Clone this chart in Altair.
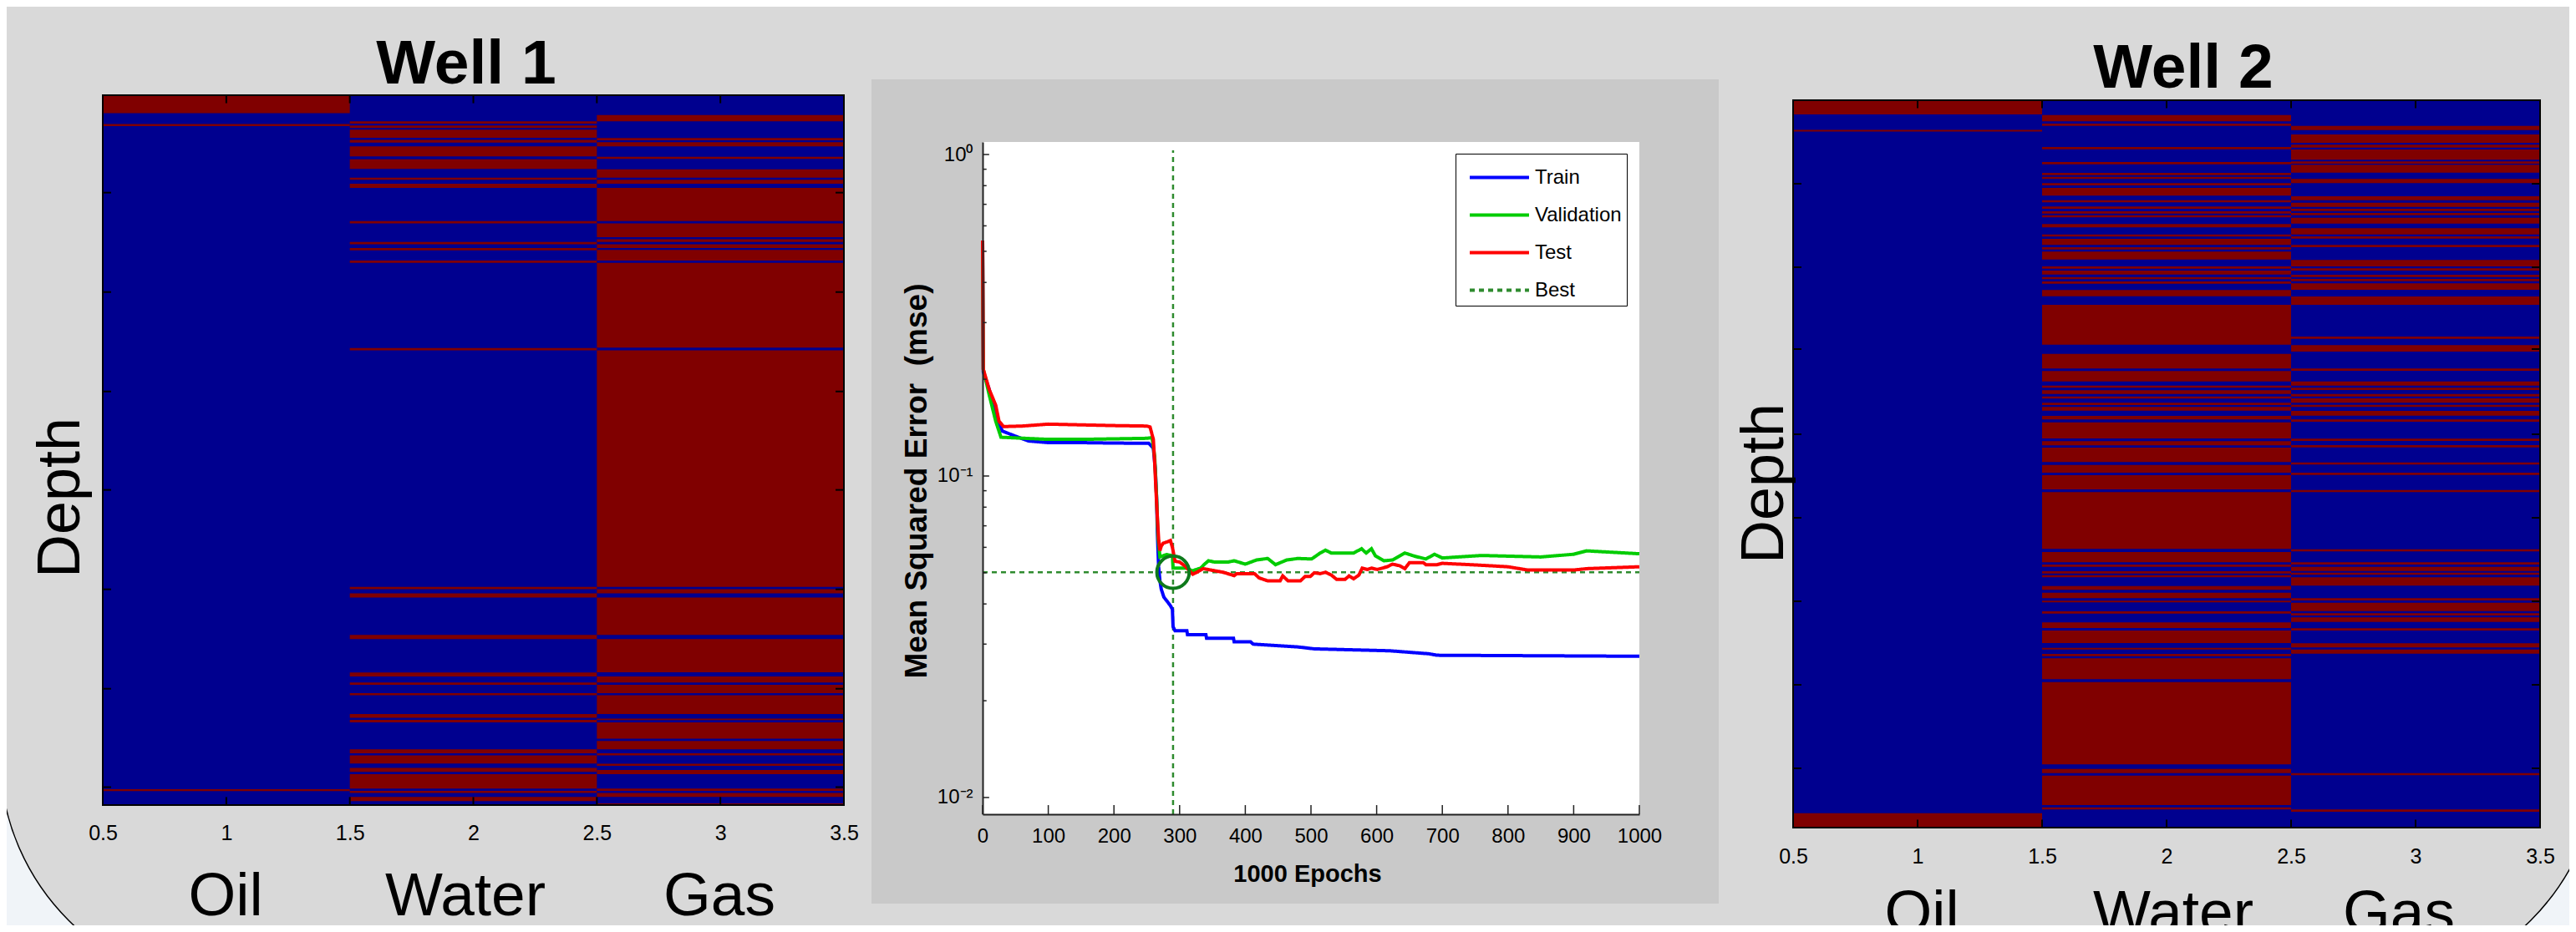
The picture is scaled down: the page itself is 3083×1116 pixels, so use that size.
import altair as alt
import pandas as pd

# ---------- Well 1 : depth intervals (rows) classified as the "red" state ----------
w1_rows = 714
w1_oil = [(0, 18), (29, 31), (698, 700)]
w1_water = [(26.3, 28.6), (30.5, 33), (34.7, 42.9), (45, 47.6), (51.5, 61.6), (64.4, 74.2), (83, 85), (89, 93.3),
            (126.6, 128.9), (147.6, 149.9), (153.8, 156), (166.4, 168.6), (254.3, 256.6), (494.6, 496.9), (501, 505.3),
            (542.8, 547), (580.6, 584.6), (590.7, 593), (601.4, 603.6), (622.4, 626.3), (628.3, 630.8), (658, 661.9),
            (664, 672.2), (676.7, 680.6), (682.9, 697.5), (699.7, 701.9), (705.9, 710)]
w1_gas = [(20, 26.3), (43, 45.4), (47.3, 51.5), (62, 64), (74.5, 83), (85, 89), (93.3, 126.6), (128.9, 142.9),
          (145, 147.6), (150, 153.8), (155.7, 166.4), (168.6, 253.8), (256.6, 494.6), (496.9, 501), (505.3, 542.8),
          (547, 580.4), (584.6, 590.7), (593, 601.4), (603.6, 622.4), (627, 628.5), (630.8, 647.3), (649.5, 658),
          (661.9, 664.1), (672.5, 674.5), (678.7, 682.9), (697.5, 699.7), (701.9, 705.9), (712.3, 714)]
w1_ticks = [98, 198, 298, 397, 497, 597, 696]

# ---------- Well 2 ----------
w2_rows = 871
w2_oil = [(0, 17), (35.5, 37.5), (853.7, 871)]
w2_water = [(17.7, 25.3), (28, 30.7), (56, 58.7), (74, 76.7), (87, 89.7), (91.7, 94.3), (99.3, 102), (105, 114.3),
            (119.7, 122.3), (127.3, 130), (133, 135.7), (137.7, 140.3), (148.3, 152.3), (160.7, 163.3), (166, 173.3),
            (176, 178.7), (181.3, 190.7), (199, 201.7), (204, 208.7), (211.7, 214.3), (217, 219.7), (227.3, 234.7),
            (245, 292.7), (303.7, 321.3), (324.3, 336.7), (341.7, 344.3), (347.3, 351.7), (354.7, 357.3), (362.3, 365),
            (367.3, 371.7), (378, 382.3), (385.7, 405), (408.3, 413.3), (416, 433.3), (436.7, 446), (449, 466),
            (469.3, 537.3), (541, 553.3), (556, 558.7), (564, 566.7), (568.7, 571.3), (581.7, 586.3), (589.7, 596.3),
            (599.3, 601.3), (612, 614.7), (625.3, 632), (635, 650), (655.7, 657.7), (663, 665.7), (668.3, 693.3),
            (696.7, 795.3), (800.7, 805.7), (808.7, 844), (846.7, 849.3)]
w2_gas = [(30.7, 35.7), (41, 51), (53.3, 56.7), (59, 71.3), (73.3, 76), (77.3, 86.7), (94.3, 99.3), (115, 119.7),
          (122.7, 127.7), (130, 132.7), (135, 137.7), (140.7, 147.7), (153.3, 160.7), (163, 165.7), (173.3, 176),
          (191.3, 199), (201.3, 204), (209, 211.7), (214, 216.7), (219.3, 227), (235, 245), (283, 285.7), (293.3, 301),
          (321.3, 324), (336.7, 341.7), (344.3, 347), (351.7, 354.7), (357, 362.3), (364.7, 367.3), (372, 377.7),
          (382.3, 385), (405.3, 408), (413, 415.7), (433.7, 436.3), (446, 448.7), (466.7, 469.3), (537.7, 540.3),
          (553.3, 556), (558.7, 563.7), (565.7, 568.3), (571.3, 581.3), (596.3, 599), (601.7, 611.7), (614.3, 617),
          (619.3, 624.7), (632.3, 635), (650.3, 655.3), (657.7, 662.7), (805.7, 808.3), (849.3, 852)]
w2_ticks = [100, 200, 298, 400, 500, 600, 700, 800]

x_label_values = [0.5, 1, 1.5, 2, 2.5, 3, 3.5]
x_inner_ticks = [1, 1.5, 2, 2.5, 3]
fluids = ["Oil", "Water", "Gas"]

# ---------- Training curves (epoch, mse) ----------
train_e = [0, 1, 10, 20, 30, 50, 70, 100, 150, 200, 253, 260, 263, 265, 266, 268, 270, 272, 276, 282, 286, 289, 290, 293,
           311, 312, 340, 341, 382, 383, 408, 412, 480, 505, 620, 679, 692, 1000]
train_v = [.54, .211, .186, .154, .138, .133, .1285, .127, .127, .1266, .1264, .122, .105, .085, .068, .0522, .0472, .0445,
           .042, .0405, .0395, .0385, .034, .033, .033, .0321, .0321, .0313, .0313, .0305, .0305, .03, .0294, .029, .0286,
           .028, .0277, .0275]
val_e = [0, 1, 10, 20, 28, 100, 150, 250, 258, 262, 265, 267, 270, 280, 289, 290, 311, 319, 332, 338, 344, 353, 374, 383,
         400, 417, 434, 446, 463, 480, 501, 514, 522, 531, 565, 577, 584, 592, 598, 611, 624, 643, 658, 675, 688, 700, 760,
         850, 900, 920, 1000]
val_v = [.54, .215, .179, .148, .132, .130, .130, .131, .1316, .115, .085, .065, .056, .057, .0565, .0517, .0517, .0507,
         .0517, .0532, .0545, .054, .054, .0545, .0532, .0548, .0554, .053, .0548, .0554, .0552, .0576, .0588, .0576,
         .0576, .0594, .0576, .0594, .0565, .0545, .0548, .0576, .0563, .0552, .0571, .0556, .0566, .056, .0571, .0585,
         .0573]
test_e = [0, 1, 10, 20, 25, 32, 60, 100, 200, 250, 255, 260, 262, 264, 266, 268, 270, 272, 275, 282, 286, 289, 293, 300,
          308, 316, 320, 327, 336, 366, 383, 387, 414, 421, 434, 453, 457, 465, 484, 491, 499, 505, 514, 522, 531, 539, 552,
          558, 565, 573, 578, 586, 592, 601, 616, 624, 635, 643, 650, 671, 675, 692, 700, 750, 800, 830, 900, 920, 1000]
test_v = [.54, .215, .186, .166, .148, .1425, .143, .145, .1435, .143, .142, .13, .11, .09, .075, .0637, .0586, .0605,
          .0618, .0625, .063, .06, .0543, .054, .0525, .0505, .0495, .0503, .0515, .0502, .049, .0497, .0497, .0482,
          .0472, .0472, .0489, .0472, .0472, .0487, .0487, .05, .0497, .0502, .0492, .0477, .0477, .0489, .0479, .0492,
          .0517, .0512, .0517, .0512, .0522, .0532, .0526, .0515, .0538, .0538, .053, .053, .0535, .0529, .0522, .051, .051,
          .0515, .0522]
best_epoch = 290
best_mse = 0.0502
series_names = ["Train", "Validation", "Test", "Best"]
series_colors = ["#0000ff", "#00cc00", "#ff0000", "#2e8b2e"]
series_dash = [[1, 0], [1, 0], [1, 0], [6, 5]]
mse_major = [1, 0.1, 0.01]
mse_minor = [m * d for d in (0.01, 0.1) for m in (2, 3, 4, 5, 6, 7, 8, 9)]
epoch_ticks = list(range(0, 1001, 100))

BLUE = "#00008f"
RED = "#800000"
BG = "#d9d9d9"
SANS = "Liberation Sans"
W, H = 3067, 1100


def P(v):  # page pixel -> chart pixel
    return alt.value(v - 8)


def box(x0, x1, y0, y1, **kw):
    return alt.Chart(alt.Data(values=[{}])).mark_rect(**kw).encode(x=P(x0), x2=P(x1), y=P(y0), y2=P(y1))


def label(text, x, y, size, bold=False, angle=0, font=SANS, align="center"):
    return alt.Chart(alt.Data(values=[{"t": text}])).mark_text(
        fontSize=size, font=font, fontWeight="bold" if bold else "normal", angle=angle,
        align=align, baseline="alphabetic", color="#000000").encode(x=P(x), y=P(y), text="t:N")


def well_layers(px0, px1, py0, py1, rows, oil, water, gas, depth_ticks, title, title_x, title_y,
                fluid_x, fluid_y, depth_x, depth_y, label_pad):
    xs = alt.Scale(domain=[0.5, 3.5], range=[px0 - 8, px1 - 8], nice=False, zero=False)
    ys = alt.Scale(domain=[0, rows], range=[py0 - 8, py1 - 8], nice=False, zero=False)
    base_df = pd.DataFrame({"a": [0.5], "b": [3.5], "c": [0], "d": [rows]})
    out = [alt.Chart(base_df).mark_rect(color=BLUE).encode(
        x=alt.X("a:Q", scale=xs, axis=alt.Axis(
            orient="bottom", values=x_label_values, format="~g", title=None, grid=False, domain=False, ticks=False,
            zindex=1, offset=-(H - (py1 - 8)), labelPadding=label_pad, labelFontSize=25, labelFont=SANS,
            labelColor="#000000", labelFlush=False, labelOverlap=False)),
        x2="b:Q", y=alt.Y("c:Q", scale=ys, axis=None), y2="d:Q")]
    rows_df = []
    for col, stripes in zip((1, 2, 3), (oil, water, gas)):
        rows_df += [{"a": col - 0.5, "b": col + 0.5, "c": s, "d": e} for s, e in stripes]
    out.append(alt.Chart(pd.DataFrame(rows_df)).mark_rect(color=RED).encode(
        x=alt.X("a:Q", scale=xs, axis=None), x2="b:Q", y=alt.Y("c:Q", scale=ys, axis=None), y2="d:Q"))
    t = []
    dy = 8 * rows / (py1 - py0) * 1.2
    dx = 10 / (px1 - px0) * 3
    for v in x_inner_ticks:
        t += [{"a": v, "b": v, "c": 0, "d": dy}, {"a": v, "b": v, "c": rows - dy, "d": rows}]
    for v in depth_ticks:
        t += [{"a": 0.5, "b": 0.5 + dx, "c": v, "d": v}, {"a": 3.5 - dx, "b": 3.5, "c": v, "d": v}]
    out.append(alt.Chart(pd.DataFrame(t)).mark_rule(color="#000000", strokeWidth=2).encode(
        x=alt.X("a:Q", scale=xs, axis=None), x2="b:Q", y=alt.Y("c:Q", scale=ys, axis=None), y2="d:Q"))
    out.append(alt.Chart(base_df).mark_rect(filled=False, stroke="#000000", strokeWidth=2).encode(
        x=alt.X("a:Q", scale=xs, axis=None), x2="b:Q", y=alt.Y("c:Q", scale=ys, axis=None), y2="d:Q"))
    out.append(label(title, title_x, title_y, 75, bold=True))
    for name, fx in zip(fluids, fluid_x):
        out.append(label(name, fx, fluid_y, 73))
    out.append(label("Depth", depth_x, depth_y, 72, angle=270))
    return out


# ---------- panel background ----------
layers = [box(0, 3111, -300, 1184, color=BG, cornerRadius=280, stroke="#000000", strokeWidth=1.5)]

# ---------- Well 1 / Well 2 ----------
layers += well_layers(123, 1010, 114, 964, w1_rows, w1_oil, w1_water, w1_gas, w1_ticks, "Well 1", 558, 100,
                      [270, 557, 861], 1096, 95, 596, 21)
layers += well_layers(2146, 3040, 120, 991, w2_rows, w2_oil, w2_water, w2_gas, w2_ticks, "Well 2", 2613, 105,
                      [2300, 2601, 2871], 1117, 2134, 579, 22)

# ---------- centre panel ----------
ex = alt.Scale(domain=[0, 1000], range=[1176 - 8, 1962 - 8], nice=False, zero=False)
ey = alt.Scale(type="log", domain=[0.00887, 1.094], range=[975 - 8, 170 - 8], nice=False, zero=False)
layers += [box(1043, 2057, 95, 1082, color="#c9c9c9"), box(1176, 1962, 170, 975, color="#ffffff")]

mse_df = pd.concat([
    pd.DataFrame({"epoch": train_e, "mse": train_v, "series": "Train"}),
    pd.DataFrame({"epoch": val_e, "mse": val_v, "series": "Validation"}),
    pd.DataFrame({"epoch": test_e, "mse": test_v, "series": "Test"}),
])
label_expr = "datum.value >= 1 ? '10\u2070' : datum.value >= 0.1 ? '10\u207b\u00b9' : '10\u207b\u00b2'"
legend_style = dict(
    title=None, orient="none", legendX=1742 - 8, legendY=184 - 8, fillColor="#ffffff", strokeColor="#000000",
    padding=6, symbolType="M-1.73,0H1.73", symbolSize=1681, symbolStrokeWidth=4, symbolOffset=24,
    symbolFillColor="transparent", labelFontSize=24, labelFont=SANS, labelColor="#000000", labelOffset=20,
    rowPadding=10)
lines = alt.Chart(mse_df).mark_line(strokeWidth=4, interpolate="linear").encode(
    x=alt.X("epoch:Q", scale=ex, axis=alt.Axis(
        orient="bottom", values=epoch_ticks, format="d", title=None, grid=False, ticks=False, domainColor="#222222",
        domainWidth=2, zindex=1, offset=-(H - (975 - 8)), labelPadding=14, labelFontSize=24, labelFont=SANS,
        labelColor="#000000", labelFlush=False, labelOverlap=False)),
    y=alt.Y("mse:Q", scale=ey, axis=alt.Axis(
        orient="left", values=mse_major, title=None, grid=False, ticks=False, domainColor="#222222", domainWidth=2,
        zindex=1, offset=-(1176 - 8), labelPadding=12, labelFontSize=24, labelFont=SANS, labelColor="#000000",
        labelExpr=label_expr, labelOverlap=False)),
    color=alt.Color("series:N", scale=alt.Scale(domain=series_names, range=series_colors),
                    legend=alt.Legend(**legend_style)),
    strokeDash=alt.StrokeDash("series:N", scale=alt.Scale(domain=series_names, range=series_dash),
                              legend=alt.Legend(**legend_style)),
)
best_df = pd.DataFrame({"a": [0, best_epoch], "b": [1000, best_epoch], "c": [best_mse, 0.00887], "d": [best_mse, 1.03]})
best = alt.Chart(best_df).mark_rule(color="#2e8b2e", strokeWidth=2.5, strokeDash=[6, 5]).encode(
    x=alt.X("a:Q", scale=ex, axis=None), x2="b:Q", y=alt.Y("c:Q", scale=ey, axis=None), y2="d:Q")
ring = alt.Chart(pd.DataFrame({"a": [best_epoch], "c": [best_mse]})).mark_point(
    shape="circle", size=1500, filled=False, stroke="#0e7a1b", strokeWidth=4, opacity=1).encode(
    x=alt.X("a:Q", scale=ex, axis=None), y=alt.Y("c:Q", scale=ey, axis=None))
tick_rows = [{"a": v, "b": v, "c": 0.00887, "d": 0.00947} for v in epoch_ticks]
tick_rows += [{"a": 0, "b": 10, "c": v, "d": v} for v in mse_major]
tick_rows += [{"a": 0, "b": 6, "c": v, "d": v} for v in mse_minor]
mse_ticks = alt.Chart(pd.DataFrame(tick_rows)).mark_rule(color="#222222", strokeWidth=1.5).encode(
    x=alt.X("a:Q", scale=ex, axis=None), x2="b:Q", y=alt.Y("c:Q", scale=ey, axis=None), y2="d:Q")
layers += [best, lines, ring, mse_ticks,
           label("Mean Squared Error\u00a0\u00a0(mse)", 1109, 576, 37, bold=True, angle=270),
           label("1000 Epochs", 1565, 1056, 29, bold=True)]

chart = alt.layer(*layers).resolve_scale(x="independent", y="independent").properties(
    width=W, height=H, padding=0, background="#f0f4f8", autosize=alt.AutoSizeParams(type="none")
).configure_view(stroke=None)

chart.save("out.html", embed_options={"renderer": "svg", "actions": False})
